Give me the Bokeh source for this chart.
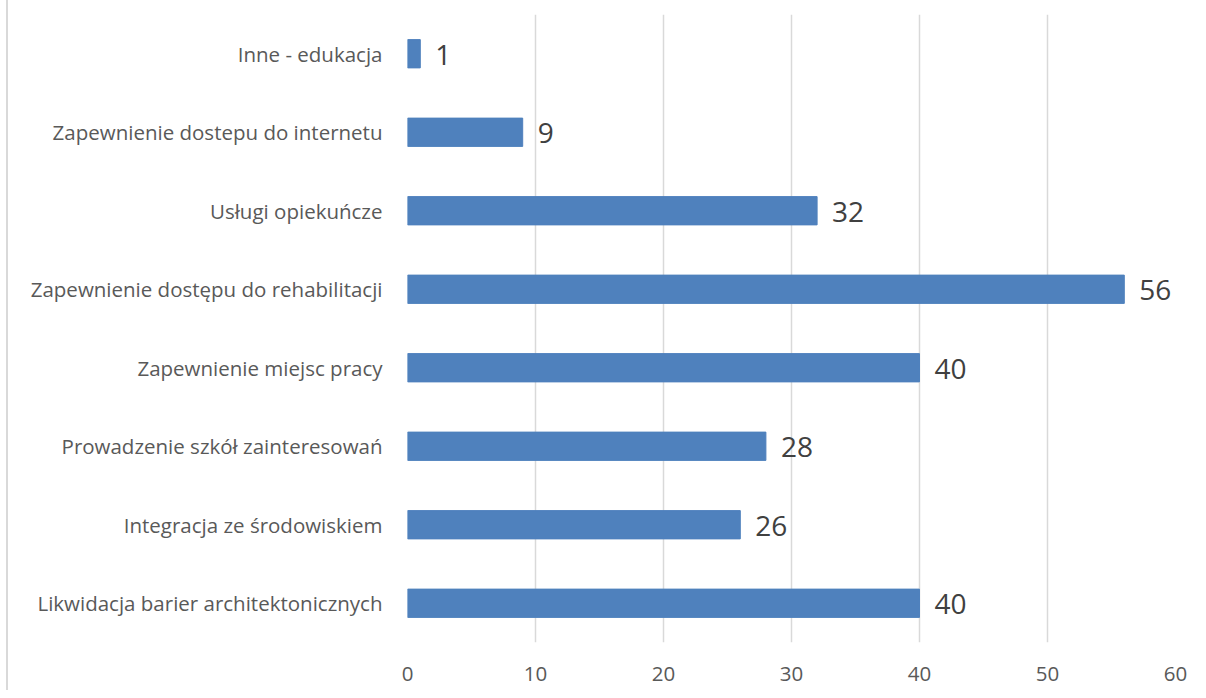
from bokeh.plotting import figure
from bokeh.models import ColumnDataSource, FixedTicker, LabelSet
from bokeh.core.properties import value
from bokeh.embed import file_html
from bokeh.resources import INLINE

categories = [
    "Likwidacja barier architektonicznych",
    "Integracja ze środowiskiem",
    "Prowadzenie szkół zainteresowań",
    "Zapewnienie miejsc pracy",
    "Zapewnienie dostępu do rehabilitacji",
    "Usługi opiekuńcze",
    "Zapewnienie dostepu do internetu",
    "Inne - edukacja",
]
values = [40, 26, 28, 40, 56, 32, 9, 1]
x_ticks = [0, 10, 20, 30, 40, 50, 60]

src = ColumnDataSource(dict(cat=categories, val=values, lbl=[str(v) for v in values]))

p = figure(y_range=categories, x_range=(0, 60), width=1190, height=690,
           output_backend="svg", toolbar_location=None,
           min_border_left=399, min_border_right=23, min_border_top=14, min_border_bottom=48)
p.styles = {"margin-left": "6px", "border-left": "2px solid #d9d9d9"}
p.outline_line_color = None
p.hbar(y="cat", right="val", left=0, height=0.36, source=src, color="#4f81bd")

labels = LabelSet(x="val", y="cat", text="lbl", source=src, x_offset=15, y_offset=-1,
                  text_font=value("Open Sans"), text_font_size="28px",
                  text_color="#404040", text_baseline="middle")
p.add_layout(labels)

p.xaxis.ticker = FixedTicker(ticks=x_ticks)
p.xgrid.ticker = FixedTicker(ticks=x_ticks)
p.xgrid.grid_line_color = "#d9d9d9"
p.xgrid.grid_line_width = 1.5
p.ygrid.grid_line_color = None

for ax in (p.xaxis, p.yaxis):
    ax.axis_line_color = None
    ax.major_tick_line_color = None
    ax.minor_tick_line_color = None
    ax.major_label_text_font = "Open Sans"
    ax.major_label_text_font_size = "20.5px"
    ax.major_label_text_color = "#595959"
p.xaxis.major_label_standoff = 18
p.yaxis.major_label_standoff = 19
p.y_range.range_padding = 0

open("out.html", "w").write(file_html(p, INLINE))
